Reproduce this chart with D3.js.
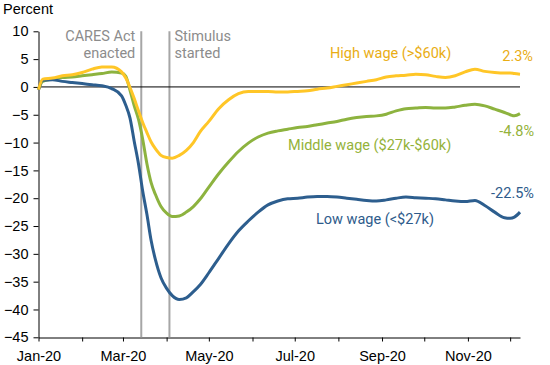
<!DOCTYPE html>
<html><head><meta charset="utf-8">
<script src="https://cdn.jsdelivr.net/npm/d3@7"></script>
<style>body{margin:0;background:#fff}svg{display:block}</style>
</head><body><svg id="c" width="550" height="365"></svg>
<script>
const dates = ["2020-01-01","2020-01-04","2020-01-11","2020-01-18","2020-01-25","2020-02-01","2020-02-08","2020-02-15","2020-02-22","2020-02-29","2020-03-03","2020-03-06","2020-03-09","2020-03-12","2020-03-15","2020-03-18","2020-03-21","2020-03-24","2020-03-28","2020-04-01","2020-04-05","2020-04-10","2020-04-15","2020-04-20","2020-04-25","2020-05-01","2020-05-08","2020-05-15","2020-05-22","2020-05-29","2020-06-05","2020-06-12","2020-06-19","2020-06-26","2020-07-03","2020-07-10","2020-07-17","2020-07-24","2020-07-31","2020-08-07","2020-08-14","2020-08-21","2020-08-28","2020-09-04","2020-09-11","2020-09-18","2020-09-25","2020-10-02","2020-10-09","2020-10-16","2020-10-23","2020-10-30","2020-11-06","2020-11-13","2020-11-20","2020-11-27","2020-12-01","2020-12-04","2020-12-08"];
const highWage = [-0.5,1.4,1.6,2.0,2.2,2.6,3.2,3.6,3.6,2.7,1.6,-0.1,-2.1,-4.3,-6.4,-8.2,-9.9,-11.1,-12.3,-12.7,-12.8,-12.3,-11.4,-10.0,-8.0,-6.2,-3.9,-2.3,-1.2,-0.8,-0.8,-0.8,-0.9,-0.9,-0.8,-0.7,-0.4,-0.2,0.1,0.4,0.7,1.0,1.3,1.8,2.0,2.1,2.3,2.2,1.9,1.7,2.0,2.7,3.2,2.8,2.6,2.5,2.5,2.4,2.3];
const middleWage = [-0.5,1.0,1.4,1.7,1.8,2.0,2.2,2.4,2.7,2.5,1.9,-0.6,-3.4,-5.8,-9.4,-13.8,-17.2,-19.3,-21.5,-22.7,-23.3,-23.2,-22.5,-21.5,-20.1,-18.0,-15.6,-13.5,-11.6,-10.1,-9.0,-8.3,-7.9,-7.6,-7.3,-7.1,-6.8,-6.5,-6.2,-5.8,-5.5,-5.3,-5.2,-4.9,-4.3,-3.9,-3.8,-3.7,-3.8,-3.8,-3.6,-3.3,-3.1,-3.4,-4.0,-4.6,-5.0,-5.2,-4.8];
const lowWage = [-0.5,1.2,1.3,1.0,0.8,0.6,0.4,0.2,-0.3,-1.6,-3.3,-5.6,-9.8,-13.8,-18.7,-22.9,-27.6,-31.0,-34.3,-36.2,-37.5,-38.2,-37.9,-36.8,-35.5,-33.4,-30.8,-28.2,-25.9,-24.1,-22.5,-21.2,-20.5,-20.1,-20.0,-19.8,-19.7,-19.7,-19.8,-20.0,-20.2,-20.4,-20.5,-20.3,-20.0,-19.8,-19.9,-20.0,-20.1,-20.3,-20.5,-20.6,-20.4,-21.3,-22.5,-23.5,-23.6,-23.4,-22.5];
const yTicks = [10,5,0,-5,-10,-15,-20,-25,-30,-35,-40,-45];
const seriesNames = ["High wage (>$60k)","Middle wage ($27k-$60k)","Low wage (<$27k)"];
const endLabels = ["2.3%","-4.8%","-22.5%"];
const eventDates = ["2020-03-14","2020-04-03"];
const eventLabels = [["CARES Act","enacted"],["Stimulus","started"]];

const parse = d3.utcParse("%Y-%m-%d");
const svg = d3.select("#c");
const x = d3.scaleUtc().domain([parse("2020-01-01"), parse("2020-12-08")]).range([38.5, 520]);
const y = d3.scaleLinear().domain([-45, 10]).range([337.3, 31.3]);
const tickFont = "Arial, 'Liberation Sans', sans-serif";
const annFont = "Roboto, sans-serif";

// y axis
const ya = svg.append("g").attr("transform","translate(38.5,0)")
  .call(d3.axisLeft(y).tickValues(yTicks).tickSize(5).tickSizeOuter(0).tickPadding(5));
ya.select(".domain").attr("stroke","#000");
ya.selectAll("text").attr("font-family",tickFont).attr("font-size",14.5).attr("fill","#000");

// x axis
const months = d3.utcMonths(parse("2020-01-01"), parse("2020-12-02"));
const xa = svg.append("g").attr("transform","translate(0,337.5)")
  .call(d3.axisBottom(x).tickValues(months).tickSize(4).tickSizeOuter(0).tickPadding(9)
    .tickFormat(d => d.getUTCMonth() % 2 === 0 ? d3.utcFormat("%b-%y")(d) : ""));
xa.select(".domain").attr("stroke","#000");
xa.selectAll("text").attr("font-family",tickFont).attr("font-size",14.5).attr("fill","#000");

svg.append("text").attr("x",3).attr("y",14).text("Percent")
  .attr("font-family",tickFont).attr("font-size",14.5).attr("fill","#000");

// event lines
eventDates.forEach((d,i) => {
  svg.append("line").attr("x1",x(parse(d))).attr("x2",x(parse(d)))
    .attr("y1",y(10)).attr("y2",y(-45)).attr("stroke","#a6a6a6").attr("stroke-width",2);
  const t = svg.append("text").attr("font-family",annFont).attr("font-size",14.5).attr("fill","#8c8c8c")
    .attr("text-anchor", i===0 ? "end" : "start");
  const tx = i===0 ? x(parse(d)) - 6 : x(parse(d)) + 5;
  eventLabels[i].forEach((s,j) => t.append("tspan").attr("x",tx).attr("y",41 + j*17).text(s));
});

// zero line
svg.append("line").attr("x1",38.5).attr("x2",520).attr("y1",y(0)).attr("y2",y(0))
  .attr("stroke","#000").attr("stroke-width",1);

const lineColors = ["#ffc627","#8db33f","#2d5e8e"];
const textColors = ["#e9ad14","#94b23a","#2e5b8b"];
const seriesData = [highWage, middleWage, lowWage];
const line = d3.line().x((d,i) => x(parse(dates[i]))).y(d => y(d)).curve(d3.curveMonotoneX);
[1,2,0].forEach(k => {
  svg.append("path").attr("d", line(seriesData[k])).attr("fill","none")
    .attr("stroke", lineColors[k]).attr("stroke-width",3).attr("stroke-linejoin","round");
});

const labelPos = [[330,57.5],[288,149.5],[316,223.5]];
const endPos = [[533,61],[534,136],[534,198]];
seriesNames.forEach((s,k) => {
  svg.append("text").attr("x",labelPos[k][0]).attr("y",labelPos[k][1]).text(s)
    .attr("font-family",annFont).attr("font-size",14.5).attr("fill",textColors[k]);
  svg.append("text").attr("x",endPos[k][0]).attr("y",endPos[k][1]).text(endLabels[k])
    .attr("text-anchor","end").attr("font-family",annFont).attr("font-size",14.5).attr("fill",textColors[k]);
});
</script></body></html>
